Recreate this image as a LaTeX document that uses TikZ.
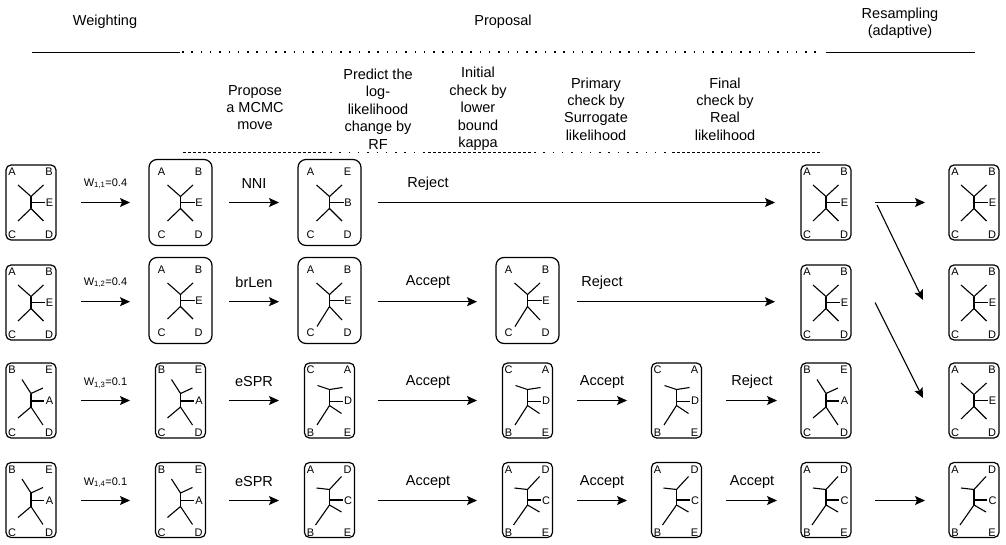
\documentclass[tikz,border=0pt]{standalone}
\usepackage{fontspec}
\setmainfont{Liberation Sans}
\usetikzlibrary{arrows.meta,calc}
% branch shapes (local coordinates, y downwards)
\newcommand\shStd{%
  \draw[br] (-13,-17.5) -- (0,-6) -- (12.5,-17.5);
  \draw[br] (0,-6) -- (0,6);
  \draw[br] (-13,18.5) -- (0,6) -- (12.5,18.5);
  \draw[br] (0,0) -- (14,0);}
\newcommand\shLong{%
  \draw[br] (-13,-17.5) -- (0,-6) -- (12.5,-17.5);
  \draw[br] (0,-6) -- (0,6);
  \draw[br] (-12.5,26) -- (0,6) -- (12.5,19.5);
  \draw[br] (0,0) -- (14,0);}
\newcommand\shBEA{%
  \draw[br] (-9,-21) -- (0,-7) -- (12,-12.5);
  \draw[br] (0,-7) -- (0,6.5);
  \draw[br] (-13,17.5) -- (0,6.5) -- (12,24.5);
  \draw[br] (0,0.5) -- (13,0.5);}
\newcommand\shCAD{%
  \draw[br] (-12,-15) -- (0,-11) -- (13,-13);
  \draw[br] (0,-11) -- (0,5);
  \draw[br] (-12.5,24.5) -- (0,5) -- (12,13);
  \draw[br] (0,1) -- (13,1);}
\newcommand\shADC{%
  \draw[br] (-13,-12) -- (0,-10.5) -- (12,-23.5);
  \draw[br] (0,-10.5) -- (0,5);
  \draw[br] (-14,25) -- (0,5) -- (12,12);
  \draw[br] (0,0) -- (13,0);}
% #1 box node, #2 shape, #3 tl, #4 tr, #5 mid, #6 bl, #7 br
\newcommand\phtree[7]{%
  \begin{scope}[shift={(#1.center)}]
    #2
    \node[leaf] (#1tl) at (-19,-30.5) {#3};
    \node[leaf] (#1tr) at (18,-30.5) {#4};
    \node[leaf] (#1md) at (18.5,0.5) {#5};
    \node[leaf] (#1bl) at (-19,32.5) {#6};
    \node[leaf] (#1br) at (18,32.5) {#7};
  \end{scope}}
\begin{document}
\begin{tikzpicture}[x=1pt,y=-1pt,
  sbox/.style={draw, line width=1.2pt, rounded corners=5pt, minimum width=50pt, minimum height=75pt, inner sep=0pt, outer sep=0pt},
  lbox/.style={draw, line width=1.2pt, rounded corners=8pt, minimum width=63pt, minimum height=86pt, inner sep=0pt, outer sep=0pt},
  arr/.style={line width=1.1pt, -{Stealth[length=10pt,width=9pt,inset=2pt]}},
  br/.style={line width=1.1pt},
  leaf/.style={font=\fontsize{11}{11}\selectfont, inner sep=0pt},
  alab/.style={font=\fontsize{14.5}{17}\selectfont, inner sep=0pt},
  wlab/.style={font=\fontsize{11}{12}\selectfont, inner sep=0pt},
  head/.style={font=\fontsize{14.5}{17.4}\selectfont, align=center, inner sep=0pt},
  sepsolid/.style={line width=0.9pt},
  sepdot/.style={line width=1.3pt, dash pattern=on 1.5pt off 7.8pt},
  sepdash/.style={line width=0.8pt, dash pattern=on 3pt off 2pt},
]
\useasboundingbox (0,0) rectangle (1006,545);

% headers
\node[head] (hw) at (105,22) {Weighting};
\node[head] (hp) at (503,22) {Proposal};
\node[head] (hr) at (900,23) {Resampling\\(adaptive)};
\node[head] (h1) at (255,107.5) {Propose\\a MCMC\\move};
\node[head] (h2) at (378,109) {Predict the\\log-\\likelihood\\change by\\RF};
\node[head] (h3) at (478,109) {Initial\\check by\\lower\\bound\\kappa};
\node[head] (h4) at (596,109) {Primary\\check by\\Surrogate\\likelihood};
\node[head] (h5) at (725,109) {Final\\check by\\Real\\likelihood};

% separator lines
\draw[sepsolid] (32,52) -- (180,52);
\draw[sepdot] (182,52) -- (822,52);
\draw[sepsolid] (826,52) -- (975,52);
\draw[sepdash] (183,152.5) -- (328,152.5);
\draw[sepdot] (330,152.5) -- (426,152.5);
\draw[sepdash] (428,152.5) -- (532,152.5);
\draw[sepdot] (534,152.5) -- (670,152.5);
\draw[sepdash] (672,152.5) -- (822,152.5);

% boxes
\node[sbox] (b11) at (31,202.5) {};
\node[lbox] (b12) at (180.5,202.5) {};
\node[lbox] (b13) at (329.5,202.5) {};
\node[sbox] (b16) at (826,202.5) {};
\node[sbox] (b17) at (974,202.5) {};

\node[sbox] (b21) at (31,302.5) {};
\node[lbox] (b22) at (180.5,300.5) {};
\node[lbox] (b23) at (329.5,300.5) {};
\node[lbox] (b24) at (527.5,300.5) {};
\node[sbox] (b26) at (826,302.5) {};
\node[sbox] (b27) at (974,302.5) {};

\node[sbox] (b31) at (31,400.5) {};
\node[sbox] (b32) at (180.5,400.5) {};
\node[sbox] (b33) at (329.5,400.5) {};
\node[sbox] (b34) at (527.5,400.5) {};
\node[sbox] (b35) at (676.5,400.5) {};
\node[sbox] (b36) at (826,400.5) {};
\node[sbox] (b37) at (974,400.5) {};

\node[sbox] (b41) at (31,500) {};
\node[sbox] (b42) at (180.5,500) {};
\node[sbox] (b43) at (329.5,500) {};
\node[sbox] (b44) at (527.5,500) {};
\node[sbox] (b45) at (676.5,500) {};
\node[sbox] (b46) at (826,500) {};
\node[sbox] (b47) at (974,500) {};

% trees
\phtree{b11}{\shStd}{A}{B}{E}{C}{D}
\phtree{b12}{\shStd}{A}{B}{E}{C}{D}
\phtree{b13}{\shStd}{A}{E}{B}{C}{D}
\phtree{b16}{\shStd}{A}{B}{E}{C}{D}
\phtree{b17}{\shStd}{A}{B}{E}{C}{D}

\phtree{b21}{\shStd}{A}{B}{E}{C}{D}
\phtree{b22}{\shStd}{A}{B}{E}{C}{D}
\phtree{b23}{\shLong}{A}{B}{E}{C}{D}
\phtree{b24}{\shLong}{A}{B}{E}{C}{D}
\phtree{b26}{\shStd}{A}{B}{E}{C}{D}
\phtree{b27}{\shStd}{A}{B}{E}{C}{D}

\phtree{b31}{\shBEA}{B}{E}{A}{C}{D}
\phtree{b32}{\shBEA}{B}{E}{A}{C}{D}
\phtree{b33}{\shCAD}{C}{A}{D}{B}{E}
\phtree{b34}{\shCAD}{C}{A}{D}{B}{E}
\phtree{b35}{\shCAD}{C}{A}{D}{B}{E}
\phtree{b36}{\shBEA}{B}{E}{A}{C}{D}
\phtree{b37}{\shStd}{A}{B}{E}{C}{D}

\phtree{b41}{\shBEA}{B}{E}{A}{C}{D}
\phtree{b42}{\shBEA}{B}{E}{A}{C}{D}
\phtree{b43}{\shADC}{A}{D}{C}{B}{E}
\phtree{b44}{\shADC}{A}{D}{C}{B}{E}
\phtree{b45}{\shADC}{A}{D}{C}{B}{E}
\phtree{b46}{\shADC}{A}{D}{C}{B}{E}
\phtree{b47}{\shADC}{A}{D}{C}{B}{E}

% row 1 connectors
\draw[arr] ($(b11.east)+(25,0)$) -- ($(b12.west)+(-19,0)$);
\draw[arr] ($(b12.east)+(17,0)$) -- ($(b13.west)+(-19,0)$);
\draw[arr] ($(b13.east)+(17,0)$) -- ($(b16.west)+(-26,0)$);
\draw[arr] ($(b16.east)+(24,0)$) -- ($(b17.west)+(-24,0)$);
\draw[arr] ($(b16.east)+(26,2.5)$) -- ($(b27.west)+(-26,-2.5)$);
% row 2
\draw[arr] ($(b21.east)+(25,-0.8)$) -- ($(b22.west)+(-19,1.2)$);
\draw[arr] ($(b22.east)+(17,1.2)$) -- ($(b23.west)+(-19,1.2)$);
\draw[arr] ($(b23.east)+(17,1.2)$) -- ($(b24.west)+(-19,1.2)$);
\draw[arr] ($(b24.east)+(18,1.2)$) -- ($(b26.west)+(-26,-0.8)$);
\draw[arr] ($(b26.east)+(24,0)$) -- ($(b37.west)+(-26,-2.5)$);
% row 3
\draw[arr] ($(b31.east)+(25,0)$) -- ($(b32.west)+(-25.5,0)$);
\draw[arr] ($(b32.east)+(23.5,0)$) -- ($(b33.west)+(-25.5,0)$);
\draw[arr] ($(b33.east)+(23.5,0)$) -- ($(b34.west)+(-25.5,0)$);
\draw[arr] ($(b34.east)+(24.5,0)$) -- ($(b35.west)+(-24.5,0)$);
\draw[arr] ($(b35.east)+(24.5,0)$) -- ($(b36.west)+(-24,0)$);
% row 4
\draw[arr] ($(b41.east)+(25,0.5)$) -- ($(b42.west)+(-25.5,0.5)$);
\draw[arr] ($(b42.east)+(23.5,0.5)$) -- ($(b43.west)+(-25.5,0.5)$);
\draw[arr] ($(b43.east)+(23.5,0.5)$) -- ($(b44.west)+(-25.5,0.5)$);
\draw[arr] ($(b44.east)+(24.5,0.5)$) -- ($(b45.west)+(-24.5,0.5)$);
\draw[arr] ($(b45.east)+(24.5,0.5)$) -- ($(b46.west)+(-24,0.5)$);
\draw[arr] ($(b46.east)+(24,0.5)$) -- ($(b47.west)+(-24,0.5)$);

% connector labels
\node[wlab] (w1) at (105.5,183.5) {W\textsubscript{1,1}=0.4};
\node[alab] (l12) at (254,183.5) {NNI};
\node[alab] (l13) at (428,183.5) {Reject};

\node[wlab] (w2) at (105.5,282.5) {W\textsubscript{1,2}=0.4};
\node[alab] (l22) at (254,282.5) {brLen};
\node[alab] (l23) at (428,282.5) {Accept};
\node[alab] (l24) at (602,282.5) {Reject};

\node[wlab] (w3) at (105.5,383) {W\textsubscript{1,3}=0.1};
\node[alab] (l32) at (254,382) {eSPR};
\node[alab] (l33) at (428,382) {Accept};
\node[alab] (l34) at (602,382) {Accept};
\node[alab] (l35) at (752,382) {Reject};

\node[wlab] (w4) at (105.5,482.5) {W\textsubscript{1,4}=0.1};
\node[alab] (l42) at (254,482) {eSPR};
\node[alab] (l43) at (428,482) {Accept};
\node[alab] (l44) at (602,482) {Accept};
\node[alab] (l45) at (752,482) {Accept};
\end{tikzpicture}
\end{document}
